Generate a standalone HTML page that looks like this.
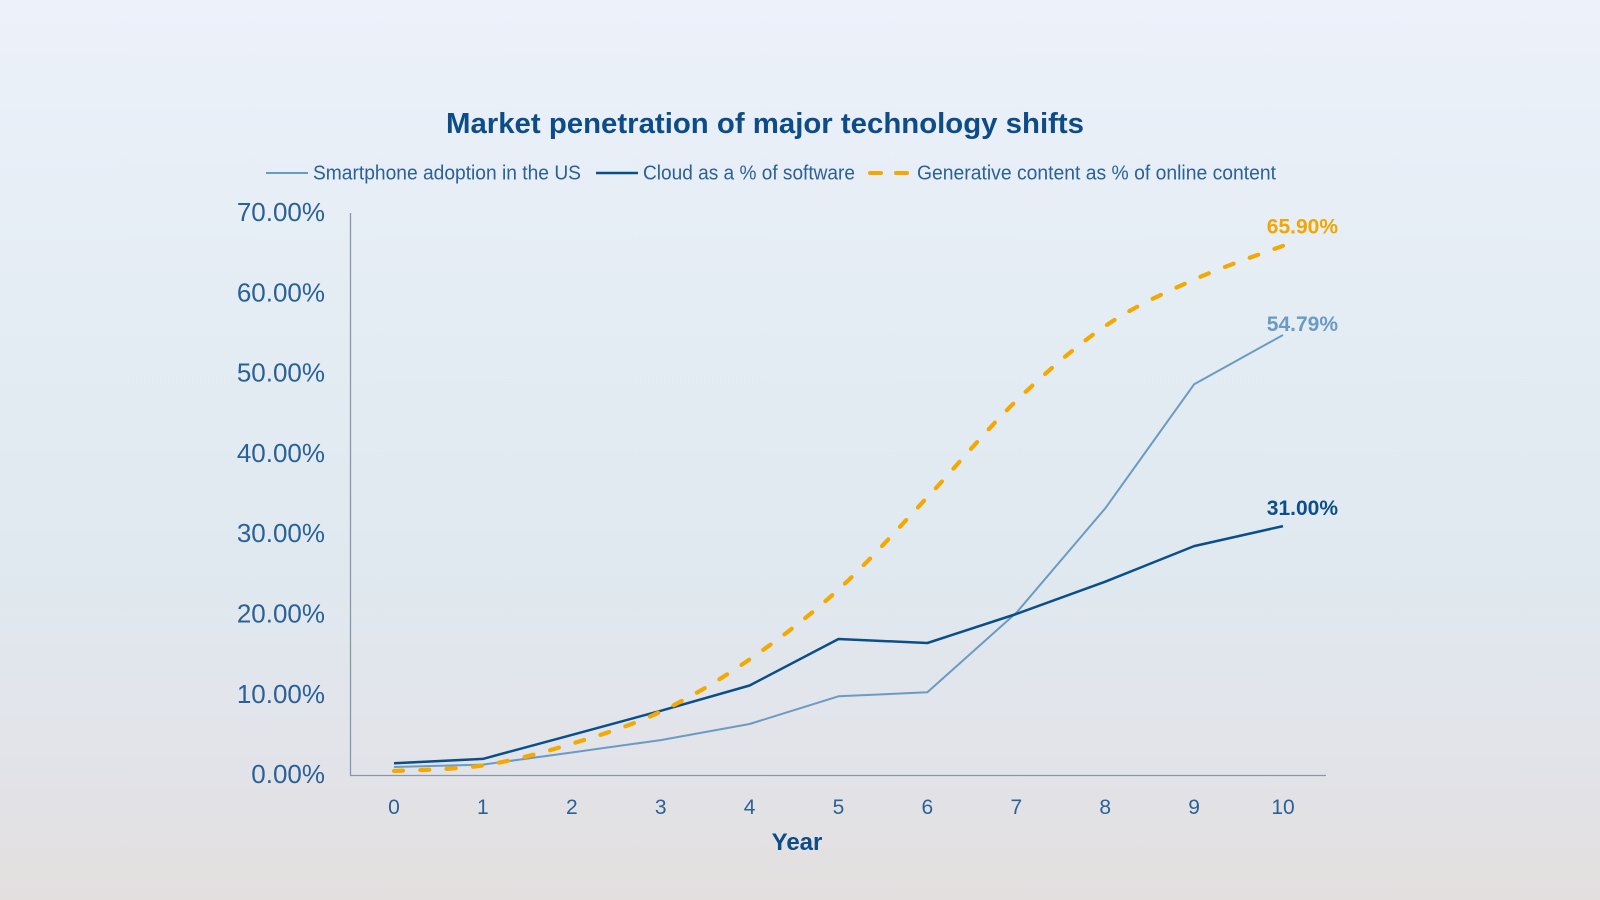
<!DOCTYPE html>
<html>
<head>
<meta charset="utf-8">
<style>
  html, body { margin: 0; padding: 0; }
  body { width: 1600px; height: 900px; overflow: hidden; }
  svg { display: block; }
  text { font-family: "Liberation Sans", Arial, sans-serif; }
</style>
</head>
<body>
<svg width="1600" height="900" viewBox="0 0 1600 900" xmlns="http://www.w3.org/2000/svg">
  <defs>
    <linearGradient id="bg" x1="0" y1="0" x2="0" y2="1">
      <stop offset="0" stop-color="#ecf1fa"/>
      <stop offset="0.45" stop-color="#e2ebf2"/>
      <stop offset="0.62" stop-color="#e0e9f0"/>
      <stop offset="0.82" stop-color="#e2e4ea"/>
      <stop offset="1" stop-color="#e3dfdf"/>
    </linearGradient>
  </defs>
  <rect x="0" y="0" width="1600" height="900" fill="url(#bg)"/>

  <!-- Title -->
  <text x="446" y="133" font-size="29" font-weight="bold" fill="#0d4c86" textLength="638" lengthAdjust="spacingAndGlyphs">Market penetration of major technology shifts</text>

  <!-- Legend -->
  <line x1="266" y1="173" x2="308" y2="173" stroke="#6b9bc2" stroke-width="2"/>
  <text x="313" y="179.5" font-size="20" fill="#2a6197" textLength="268" lengthAdjust="spacingAndGlyphs">Smartphone adoption in the US</text>
  <line x1="596" y1="173" x2="638" y2="173" stroke="#0b4f8a" stroke-width="2.5"/>
  <text x="643" y="179.5" font-size="20" fill="#2a6197" textLength="212" lengthAdjust="spacingAndGlyphs">Cloud as a % of software</text>
  <line x1="870" y1="173" x2="881" y2="173" stroke="#f4a900" stroke-width="4" stroke-linecap="round"/>
  <line x1="896" y1="173" x2="907" y2="173" stroke="#f4a900" stroke-width="4" stroke-linecap="round"/>
  <text x="917" y="179.5" font-size="20" fill="#2a6197" textLength="359" lengthAdjust="spacingAndGlyphs">Generative content as % of online content</text>

  <!-- Y axis labels -->
  <g font-size="26" fill="#2a6197" text-anchor="end">
    <text x="325" y="221">70.00%</text>
    <text x="325" y="301.3">60.00%</text>
    <text x="325" y="381.6">50.00%</text>
    <text x="325" y="461.9">40.00%</text>
    <text x="325" y="542.2">30.00%</text>
    <text x="325" y="622.5">20.00%</text>
    <text x="325" y="702.8">10.00%</text>
    <text x="325" y="783">0.00%</text>
  </g>

  <!-- Axes -->
  <line x1="350.5" y1="213" x2="350.5" y2="775.5" stroke="#8c96ab" stroke-width="1.3"/>
  <line x1="350" y1="775.5" x2="1326" y2="775.5" stroke="#8c96ab" stroke-width="1.3"/>

  <!-- X axis labels -->
  <g font-size="21" fill="#2a6197" text-anchor="middle">
    <text x="394" y="814">0</text>
    <text x="482.9" y="814">1</text>
    <text x="571.8" y="814">2</text>
    <text x="660.7" y="814">3</text>
    <text x="749.6" y="814">4</text>
    <text x="838.5" y="814">5</text>
    <text x="927.4" y="814">6</text>
    <text x="1016.3" y="814">7</text>
    <text x="1105.2" y="814">8</text>
    <text x="1194.1" y="814">9</text>
    <text x="1283" y="814">10</text>
  </g>
  <text x="797" y="850" font-size="24" font-weight="bold" fill="#0d4c86" text-anchor="middle">Year</text>

  <!-- Smartphone series -->
  <polyline fill="none" stroke="#6b9bc2" stroke-width="2" stroke-linejoin="round"
    points="394,767.0 482.9,764.6 571.8,752.5 660.7,740.1 749.6,724.0 838.5,696.3 927.4,692.3 1016.3,612.8 1105.2,508.4 1194.1,384.3 1283,335.0"/>

  <!-- Cloud series -->
  <polyline fill="none" stroke="#0b4f8a" stroke-width="2.5" stroke-linejoin="round"
    points="394,763.3 482.9,758.9 571.8,734.9 660.7,710.8 749.6,685.5 838.5,639.0 927.4,643.0 1016.3,614.0 1105.2,581.7 1194.1,546.1 1283,526.1"/>

  <!-- Generative series (smoothed, dashed) -->
  <path fill="none" stroke="#f4a900" stroke-width="4.2" stroke-linecap="round" stroke-dasharray="9 17" pathLength="1049"
    d="M394,771.0
       C408.8,770.1 453.3,770.0 482.9,765.4
       C512.5,760.9 542.2,752.7 571.8,743.7
       C601.4,734.7 631.1,725.7 660.7,711.6
       C690.3,697.6 720.0,679.8 749.6,659.4
       C779.2,639.1 808.9,616.5 838.5,589.5
       C868.1,562.5 897.8,528.7 927.4,497.2
       C957.0,465.8 986.7,429.3 1016.3,400.8
       C1045.9,372.3 1075.6,346.3 1105.2,326.1
       C1134.8,305.9 1164.5,293.0 1194.1,279.6
       C1223.7,266.2 1268.2,251.4 1283,245.8"/>

  <!-- End labels -->
  <g font-size="21" font-weight="bold" text-anchor="end">
    <text x="1338" y="233.5" fill="#f2a600">65.90%</text>
    <text x="1338" y="331" fill="#6b9bc2">54.79%</text>
    <text x="1338" y="515" fill="#0b4f8a">31.00%</text>
  </g>
</svg>
</body>
</html>
